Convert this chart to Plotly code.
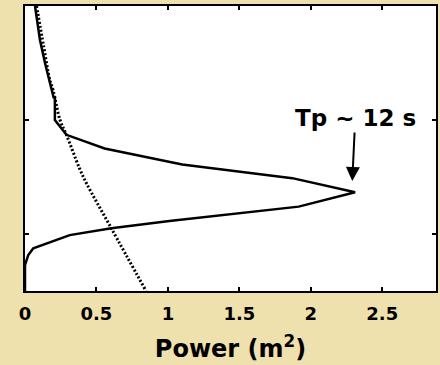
import plotly.graph_objects as go

# Wave spectrum: power (m^2) against frequency (Hz, vertical axis)
spec_power = [0.070, 0.082, 0.105, 0.140, 0.175, 0.200, 0.209, 0.209, 0.290, 0.557,
              1.10, 1.87, 2.31, 1.915, 1.01, 0.604, 0.313, 0.058, 0.023, 0.0, 0.0]
spec_freq = [0.250, 0.238, 0.220, 0.200, 0.182, 0.170, 0.170, 0.150, 0.137, 0.125,
             0.111, 0.099, 0.0866, 0.074, 0.0614, 0.055, 0.049, 0.0375, 0.0316, 0.0228, 0.0]

# Reference curve (dotted)
ref_power = [0.081, 0.130, 0.174, 0.197, 0.245, 0.290, 0.380, 0.430, 0.604, 0.847]
ref_freq = [0.250, 0.215, 0.185, 0.176, 0.150, 0.137, 0.108, 0.0945, 0.055, 0.0]

x_ticks = [0, 0.5, 1, 1.5, 2, 2.5]
x_tick_text = ["0", "0.5", "1", "1.5", "2", "2.5"]
y_ticks = [0.05, 0.15, 0.25]

peak_label = "Tp ~ 12 s"
peak_power = 2.29
peak_freq = 0.0965

BG = "#EFE1AE"
FONT = "DejaVu Sans"

fig = go.Figure()
fig.add_trace(go.Scatter(x=ref_power, y=ref_freq, mode="lines",
                         line=dict(color="black", width=3, dash="2px,2px"),
                         line_shape="spline", hoverinfo="skip"))
fig.add_trace(go.Scatter(x=spec_power, y=spec_freq, mode="lines",
                         line=dict(color="black", width=2.5), hoverinfo="skip"))

fig.add_annotation(x=peak_power, y=peak_freq, text="<b>" + peak_label + "</b>",
                   showarrow=True, ax=3, ay=-63, arrowhead=2, arrowsize=1.4,
                   arrowwidth=2, arrowcolor="black",
                   font=dict(family=FONT, size=23, color="black"))

fig.update_layout(
    width=440, height=365,
    margin=dict(l=25, r=2, t=6, b=74),
    paper_bgcolor=BG, plot_bgcolor="white",
    showlegend=False,
    font=dict(family=FONT, color="black"),
)
fig.update_xaxes(range=[0, 2.876], tickvals=x_ticks, ticktext=["<b>%s</b>" % t for t in x_tick_text],
                 ticks="inside", ticklen=4, tickwidth=1.5, tickcolor="black",
                 ticklabelstandoff=5,
                 showline=True, linecolor="black", linewidth=2, mirror="ticks",
                 showgrid=False, zeroline=False,
                 tickfont=dict(family=FONT, size=18, color="black"),
                 title=dict(text="<b>Power (m<sup>2</sup>)</b>", standoff=18,
                            font=dict(family=FONT, size=24, color="black")))
fig.update_yaxes(range=[0, 0.25], tickvals=y_ticks, showticklabels=False,
                 ticks="inside", ticklen=4, tickwidth=1.5, tickcolor="black",
                 showline=True, linecolor="black", linewidth=2, mirror="ticks",
                 showgrid=False, zeroline=False)

fig.write_html("out.html")
